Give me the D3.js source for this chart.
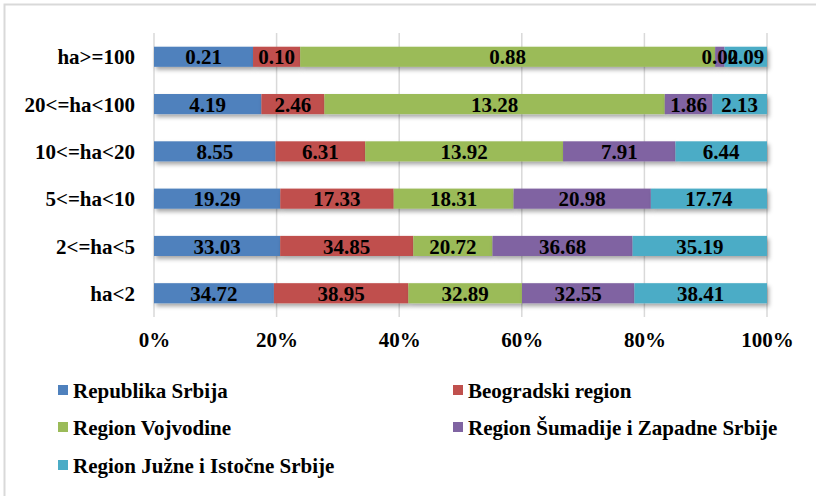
<!DOCTYPE html>
<html>
<head>
<meta charset="utf-8">
<script src="https://cdn.jsdelivr.net/npm/d3@7.9.0/dist/d3.min.js"></script>
<style>
  body { margin: 0; background: #fff; }
  svg { display: block; font-family: "Liberation Serif", "Times New Roman", serif; font-weight: bold; }
</style>
</head>
<body>
<svg id="chart" width="816" height="496"></svg>
<script>
// size classes, top to bottom
const categories = ['ha>=100', '20<=ha<100', '10<=ha<20', '5<=ha<10', '2<=ha<5', 'ha<2'];

const seriesNames = [
  'Republika Srbija',
  'Beogradski region',
  'Region Vojvodine',
  'Region Šumadije i Zapadne Srbije',
  'Region Južne i Istočne Srbije'
];

const republika = [0.21, 4.19, 8.55, 19.29, 33.03, 34.72];
const beograd   = [0.10, 2.46, 6.31, 17.33, 34.85, 38.95];
const vojvodina = [0.88, 13.28, 13.92, 18.31, 20.72, 32.89];
const sumadija  = [0.02, 1.86, 7.91, 20.98, 36.68, 32.55];
const juzna     = [0.09, 2.13, 6.44, 17.74, 35.19, 38.41];

const tickValues = [0, 0.2, 0.4, 0.6, 0.8, 1];

const colors = ['#4F81BD', '#C0504D', '#9BBB59', '#8064A2', '#4BACC6'];
const seriesValues = [republika, beograd, vojvodina, sumadija, juzna];

// build rows for d3.stack
let rows = categories.map((c, i) => {
  let r = { cat: c };
  seriesNames.forEach((s, j) => { r[s] = seriesValues[j][i]; });
  return r;
});

let stack = d3.stack().keys(seriesNames).offset(d3.stackOffsetExpand);
let layers = stack(rows);

const svg = d3.select('#chart');

// outer frame
svg.append('rect')
  .attr('x', 4.5).attr('y', 4.5)
  .attr('width', 830).attr('height', 520)
  .attr('fill', 'none')
  .attr('stroke', '#d9d9d9')
  .attr('stroke-width', 2);

let defs = svg.append('defs');
let filter = defs.append('filter').attr('id', 'shadow')
  .attr('x', '-10%').attr('y', '-30%').attr('width', '120%').attr('height', '190%');
filter.append('feDropShadow')
  .attr('dx', 2).attr('dy', 3)
  .attr('stdDeviation', 2)
  .attr('flood-color', '#000')
  .attr('flood-opacity', 0.35);

let x = d3.scaleLinear().domain([0, 1]).range([154, 767]);
let y = d3.scaleBand().domain(categories).range([33, 317]).paddingInner(0.575).paddingOuter(0.29);

// gridlines
svg.append('g')
  .selectAll('line')
  .data(tickValues)
  .join('line')
  .attr('x1', d => x(d)).attr('x2', d => x(d))
  .attr('y1', 33).attr('y2', 317)
  .attr('stroke', '#d9d9d9')
  .attr('stroke-width', 1.5);

// bars
let barG = svg.append('g');
layers.forEach((layer, k) => {
  barG.append('g')
    .attr('fill', colors[k])
    .attr('filter', 'url(#shadow)')
    .selectAll('rect')
    .data(layer)
    .join('rect')
    .attr('x', d => x(d[0]))
    .attr('y', d => y(d.data.cat))
    .attr('width', d => x(d[1]) - x(d[0]))
    .attr('height', y.bandwidth());
});

// value labels
let labelG = svg.append('g');
layers.forEach((layer, k) => {
  labelG.selectAll(null)
    .data(layer)
    .join('text')
    .attr('x', d => (x(d[0]) + x(d[1])) / 2)
    .attr('y', d => y(d.data.cat) + y.bandwidth() / 2)
    .attr('dy', '0.36em')
    .attr('text-anchor', 'middle')
    .attr('font-size', 21)
    .attr('fill', '#000')
    .text(d => d.data[layer.key].toFixed(2));
});

// category axis
let yAxis = svg.append('g')
  .attr('transform', 'translate(140,0)')
  .call(d3.axisLeft(y).tickSize(0).tickPadding(5))
  .attr('font-family', null)
  .attr('font-size', 21);
yAxis.select('.domain').remove();
yAxis.selectAll('text').attr('fill', '#000').attr('dy', '0.36em');

// percent axis
let xAxis = svg.append('g')
  .attr('transform', 'translate(0,332)')
  .call(d3.axisBottom(x).tickValues(tickValues).tickFormat(d3.format('.0%')).tickSize(0).tickPadding(0))
  .attr('font-family', null)
  .attr('font-size', 21);
xAxis.select('.domain').remove();
xAxis.selectAll('text').attr('fill', '#000');

// legend
const legendX = [58, 453];
const legendY = [390, 427, 465];
let legend = svg.append('g')
  .selectAll('g')
  .data(seriesNames)
  .join('g')
  .attr('transform', (d, i) => `translate(${legendX[i % 2]},${legendY[Math.floor(i / 2)]})`);

legend.append('rect')
  .attr('x', 0).attr('y', -5)
  .attr('width', 10).attr('height', 10)
  .attr('fill', (d, i) => colors[i]);

legend.append('text')
  .attr('x', 15)
  .attr('dy', '0.36em')
  .attr('font-size', 21)
  .attr('fill', '#000')
  .text(d => d);
</script>
</body>
</html>
